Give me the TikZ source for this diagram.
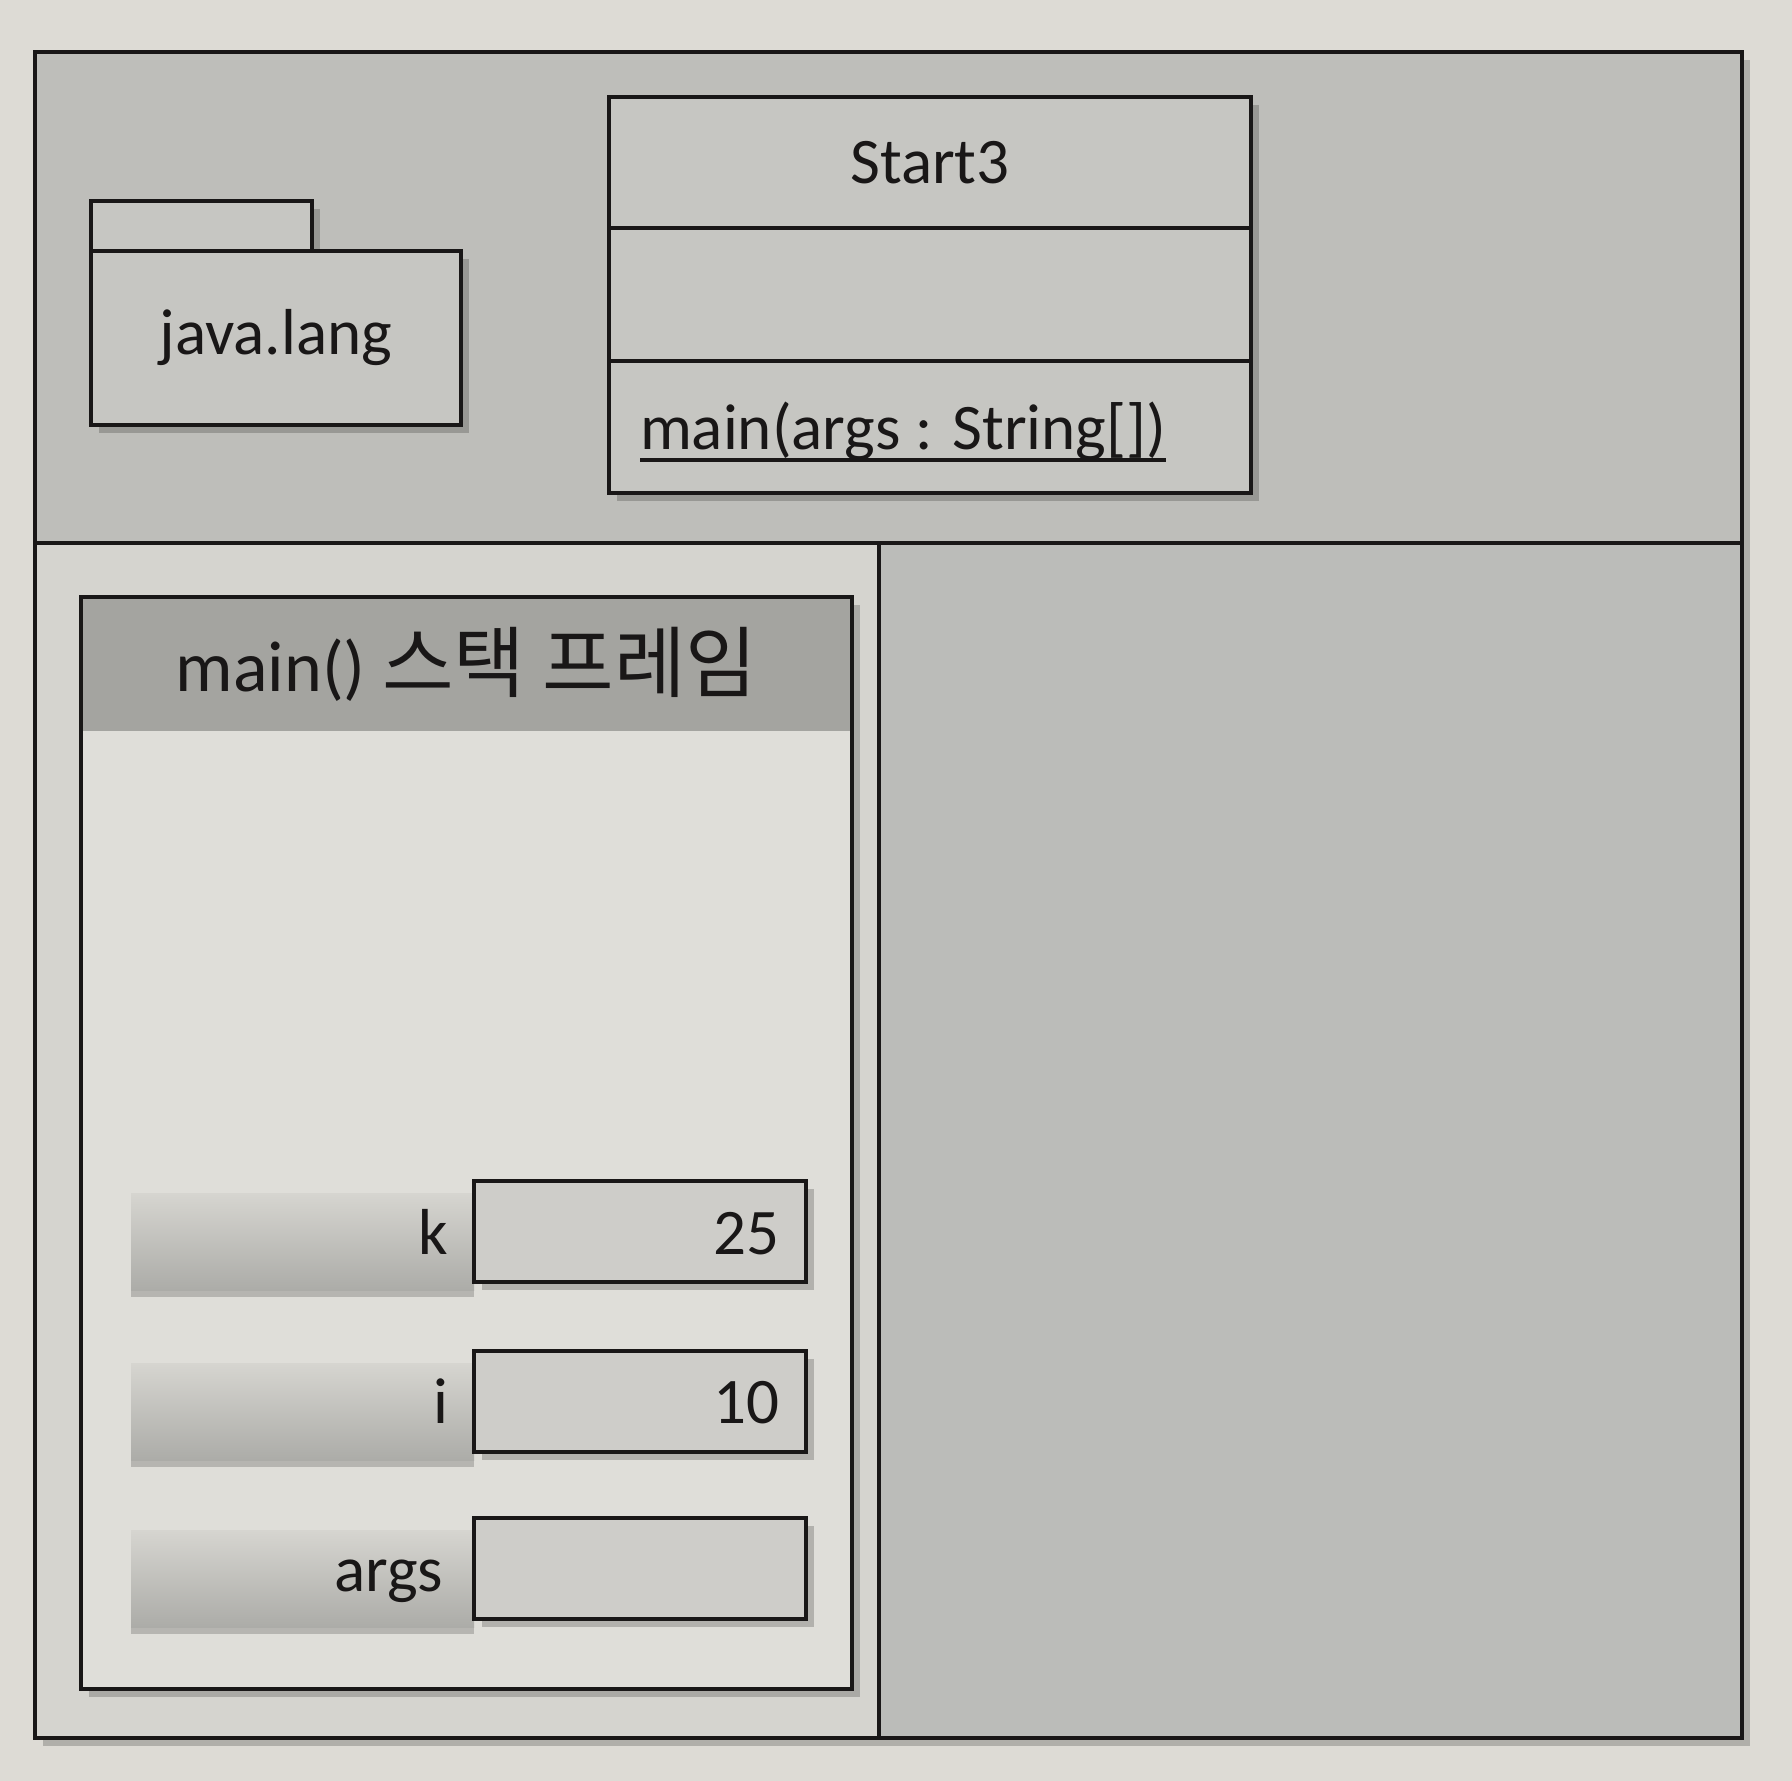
\documentclass[tikz,border=0pt]{standalone}
\usepackage{fontspec}
\setmainfont{Carlito}
\newfontfamily\krfont[Scale=1.08]{Noto Sans CJK KR}
\usetikzlibrary{shadows}
\definecolor{pagebg}{RGB}{221,219,213}
\definecolor{topbg}{RGB}{190,190,186}
\definecolor{leftbg}{RGB}{213,212,207}
\definecolor{rightbg}{RGB}{187,188,185}
\definecolor{stackbg}{RGB}{223,222,217}
\definecolor{headbg}{RGB}{164,164,160}
\definecolor{boxbg}{RGB}{198,198,194}
\definecolor{varbg}{RGB}{206,205,201}
\definecolor{bartop}{RGB}{214,213,208}
\definecolor{barbot}{RGB}{172,172,168}
\definecolor{ink}{RGB}{25,23,23}
\begin{document}
\begin{tikzpicture}[x=1pt,y=-1pt,
  every node/.style={inner sep=0pt, outer sep=0pt},
  ln/.style={draw=ink, line width=4pt},
  shadowed/.style={drop shadow={shadow xshift=8pt, shadow yshift=-8pt, fill=black, opacity=0.2}},
  boxnode/.style={ln, fill=boxbg, anchor=north west, shadowed},
  varbox/.style={ln, fill=varbg, anchor=north west, shadowed, minimum width=332pt, minimum height=101pt},
  varbar/.style={anchor=north west, top color=bartop, bottom color=barbot,
     drop shadow={shadow xshift=0pt, shadow yshift=-7pt, fill=black, opacity=0.18},
     minimum width=343pt, minimum height=97pt},
  lbl/.style={font=\fontsize{65}{78}\selectfont, text=ink},
  title/.style={font=\fontsize{72}{86}\selectfont, text=ink}]
\fill[pagebg] (0,0) rectangle (1792,1781);
\useasboundingbox (0,0) rectangle (1792,1781);

% outer frame and regions
\node[ln, fill=topbg, shadowed, anchor=north west, minimum width=1707pt, minimum height=1686pt] (outer) at (35,52) {};
\node[fill=leftbg, anchor=north west, minimum width=844pt, minimum height=1195pt] (lowleft) at (35,543) {};
\node[fill=rightbg, anchor=north west, minimum width=863pt, minimum height=1195pt] (lowright) at (879,543) {};
\draw[ln] (lowleft.north west) -- (lowright.north east);
\draw[ln] (lowright.north west) -- (lowright.south west);
\draw[ln] (outer.north west) rectangle (outer.south east);

% package java.lang
\node[boxnode, minimum width=221pt, minimum height=52pt] (pkgtab) at (91,201) {};
\node[boxnode, minimum width=370pt, minimum height=174pt] (pkg) at (91,251) {};
\node[lbl] (pkgname) at (pkg.center) {java.lang};

% class Start3
\node[boxnode, minimum width=642pt, minimum height=396pt] (cls) at (609,97) {};
\draw[ln] ([yshift=-131pt]cls.north west) -- ([yshift=-131pt]cls.north east);
\draw[ln] ([yshift=-264pt]cls.north west) -- ([yshift=-264pt]cls.north east);
\node[lbl, anchor=base] (clsname) at ([yshift=-86pt]cls.north) {Start3};
\node[lbl, anchor=base west] (mainop) at ([xshift=31pt, yshift=-352pt]cls.north west) {main(args : String[])};
\draw[ink, line width=3.5pt] ([yshift=-11pt]mainop.base west) -- ([yshift=-11pt]mainop.base east);

% stack frame
\node[ln, fill=stackbg, shadowed, anchor=north west, minimum width=771pt, minimum height=1092pt] (stack) at (81,597) {};
\node[fill=headbg, anchor=north west, minimum width=771pt, minimum height=134pt] (stackhead) at (stack.north west) {};
\draw[ln] (stack.north west) rectangle (stack.south east);
\node[title] (stacktitle) at (stackhead.center) {main() {\krfont 스택 프레임}};

% variables
\node[varbar] (kbar) at (131,1193) {};
\node[varbox] (kbox) at (474,1181) {};
\node[lbl, anchor=base east] (klbl) at ([xshift=-26pt, yshift=-73pt]kbox.north west) {k};
\node[lbl, anchor=base east] (kval) at ([xshift=-27pt, yshift=-73pt]kbox.north east) {25};

\node[varbar] (ibar) at (131,1363) {};
\node[varbox] (ibox) at (474,1351) {};
\node[lbl, anchor=base east] (ilbl) at ([xshift=-26pt, yshift=-72pt]ibox.north west) {i};
\node[lbl, anchor=base east] (ival) at ([xshift=-27pt, yshift=-72pt]ibox.north east) {10};

\node[varbar] (abar) at (131,1530) {};
\node[varbox] (abox) at (474,1518) {};
\node[lbl, anchor=base east] (albl) at ([xshift=-31pt, yshift=-73pt]abox.north west) {args};
\end{tikzpicture}
\end{document}
